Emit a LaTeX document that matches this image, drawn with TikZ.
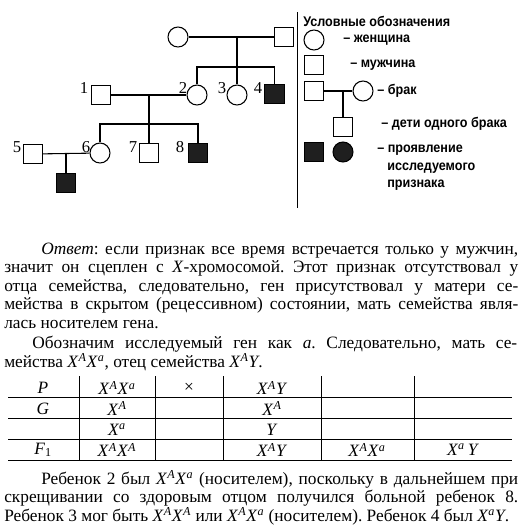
\documentclass[tikz,border=0pt]{standalone}
\usepackage{fontspec}
\setmainfont{Liberation Serif}
\newfontfamily\legfont{Liberation Sans}[FakeStretch=0.9]
\newcommand\Xg[1]{\textit{X}\textsuperscript{\textit{#1}}}
\frenchspacing
\begin{document}
\begin{tikzpicture}[x=0.75pt,y=-0.75pt,
  male/.style={draw, rectangle, minimum size=14.5pt, inner sep=0pt, line width=0.8pt},
  female/.style={draw, circle, minimum size=15pt, inner sep=0pt, line width=0.8pt},
  affected/.style={fill=black!88},
  conn/.style={line width=0.8pt},
  num/.style={font=\fontsize{12.5pt}{14pt}\selectfont, inner sep=0pt},
  leg/.style={font=\legfont\bfseries\fontsize{10.5pt}{12pt}\selectfont, inner sep=0pt, anchor=west},
  txt/.style={font=\fontsize{13pt}{15pt}\selectfont, inner sep=0pt, anchor=base west},
  cell/.style={font=\fontsize{13pt}{15pt}\selectfont, inner sep=0pt},
  rule/.style={line width=0.6pt}]
\useasboundingbox (0,0) rectangle (532,529);
\fill[white] (0,0) rectangle (532,529);

% ---------- pedigree ----------
\node[female] (gm) at (178,37) {};
\node[male] (gf) at (284,37) {};
\node[female] (c2) at (197,95) {};
\node[female] (c3) at (237,95) {};
\node[male,affected] (c4) at (274.5,94) {};
\node[male] (p1) at (101,95) {};
\node[female] (c6) at (100,153) {};
\node[male] (c7) at (149,153) {};
\node[male,affected] (c8) at (198,153) {};
\node[male] (p5) at (33,154) {};
\node[male,affected] (c9) at (66,183) {};

\node[num] (n1) at (84,88) {1};
\node[num] (n2) at (183,88) {2};
\node[num] (n3) at (222,88) {3};
\node[num] (n4) at (258,88) {4};
\node[num] (n5) at (17,147) {5};
\node[num] (n6) at (86,147) {6};
\node[num] (n7) at (133,147) {7};
\node[num] (n8) at (180,147) {8};

\coordinate (m1) at (237,37);
\coordinate (s1a) at (197,67);
\coordinate (s1b) at (274.5,67);
\draw[conn] (gm) -- (gf);
\draw[conn] (m1) -- (c3);
\draw[conn] (c2) -- (s1a) -- (s1b) -- (c4);

\coordinate (m2) at (149,95);
\coordinate (s2a) at (100,124);
\coordinate (s2b) at (198,124);
\draw[conn] (p1) -- (c2);
\draw[conn] (m2) -- (c7);
\draw[conn] (c6) -- (s2a) -- (s2b) -- (c8);

\coordinate (m3) at (66,154);
\draw[conn] (p5) -- (c6);
\draw[conn] (m3) -- (c9);

% divider
\coordinate (d1) at (297,12);
\coordinate (d2) at (297,208);
\draw[line width=0.7pt] (d1) -- (d2);

% ---------- legend ----------
\node[leg] (lt) at (303,21) {Условные обозначения};
\node[female] (lf) at (314,40) {};
\node[leg] (lft) at (343,40) {– женщина};
\node[male] (lm) at (314,65) {};
\node[leg] (lmt) at (350,65) {– мужчина};
\node[male] (lbm) at (314,91) {};
\node[female] (lbf) at (363,91) {};
\coordinate (lbmid) at (343,91);
\node[male] (lbc) at (343,127) {};
\draw[conn] (lbm) -- (lbf);
\draw[conn] (lbmid) -- (lbc);
\node[leg] (lbt) at (377,91) {– брак};
\node[leg] (lct) at (381,124) {– дети одного брака};
\node[male,affected] (lam) at (314,152) {};
\node[female,affected] (laf) at (343,152) {};
\node[leg] (lat1) at (377,150) {– проявление};
\node[leg] (lat2) at (387,168) {исследуемого};
\node[leg] (lat3) at (387,185) {признака};

% ---------- text ----------
\node[txt] (t1) at (41,254) {\makebox[357.75pt][s]{\textit{Ответ}: если признак все время встречается только у мужчин,}};
\node[txt] (t2) at (4,272.5) {\makebox[385.5pt][s]{значит он сцеплен с \textit{X}-хромосомой. Этот признак отсутствовал у}};
\node[txt] (t3) at (4,291) {\makebox[385.5pt][s]{отца семейства, следовательно, ген присутствовал у матери се-}};
\node[txt] (t4) at (4,309.5) {\makebox[385.5pt][s]{мейства в скрытом (рецессивном) состоянии, мать семейства явля-}};
\node[txt] (t5) at (4,328.5) {лась носителем гена.};
\node[txt] (t6) at (32,348.5) {\makebox[363.75pt][s]{Обозначим исследуемый ген как \textit{a}. Следовательно, мать се-}};
\node[txt] (t7) at (4,367) {мейства \Xg{A}\Xg{a}, отец семейства \Xg{A}\textit{Y}.};

% ---------- table ----------
\foreach \yy/\nm in {397/h1,418/h2,439/h3,460/h4}{
  \coordinate (\nm a) at (8,\yy);
  \coordinate (\nm b) at (512,\yy);
  \draw[rule] (\nm a) -- (\nm b);
}
\foreach \xx/\nm in {79/v1,155/v2,223/v3,321/v4,414/v5}{
  \coordinate (\nm a) at (\xx,376);
  \coordinate (\nm b) at (\xx,460);
  \draw[rule] (\nm a) -- (\nm b);
}
\node[cell] (pP) at (43,388) {\textit{P}};
\node[cell] (pA) at (117,388) {\Xg{A}\Xg{a}};
\node[cell] (pX) at (189,388) {×};
\node[cell] (pB) at (272,388) {\Xg{A}\textit{Y}};
\node[cell] (gG) at (43,408.5) {\textit{G}};
\node[cell] (gA) at (117,408.5) {\Xg{A}};
\node[cell] (gB) at (272,408.5) {\Xg{A}};
\node[cell] (ga) at (117,429.5) {\Xg{a}};
\node[cell] (gY) at (272,429.5) {\textit{Y}};
\node[cell] (fF) at (43,450) {\textit{F}\textsubscript{1}};
\node[cell] (f1) at (117,450) {\Xg{A}\Xg{A}};
\node[cell] (f2) at (272,450) {\Xg{A}\textit{Y}};
\node[cell] (f3) at (367,450) {\Xg{A}\Xg{a}};
\node[cell] (f4) at (463,450) {\Xg{a}\,\textit{Y}};

% ---------- final text ----------
\node[txt] (b1) at (41,484) {\makebox[357.75pt][s]{Ребенок 2 был \Xg{A}\Xg{a} (носителем), поскольку в дальнейшем при}};
\node[txt] (b2) at (4,502.5) {\makebox[385.5pt][s]{скрещивании со здоровым отцом получился больной ребенок 8.}};
\node[txt] (b3) at (4,521) {Ребенок 3 мог быть \Xg{A}\Xg{A} или \Xg{A}\Xg{a} (носителем). Ребенок 4 был \Xg{a}\textit{Y}.};
\end{tikzpicture}
\end{document}
